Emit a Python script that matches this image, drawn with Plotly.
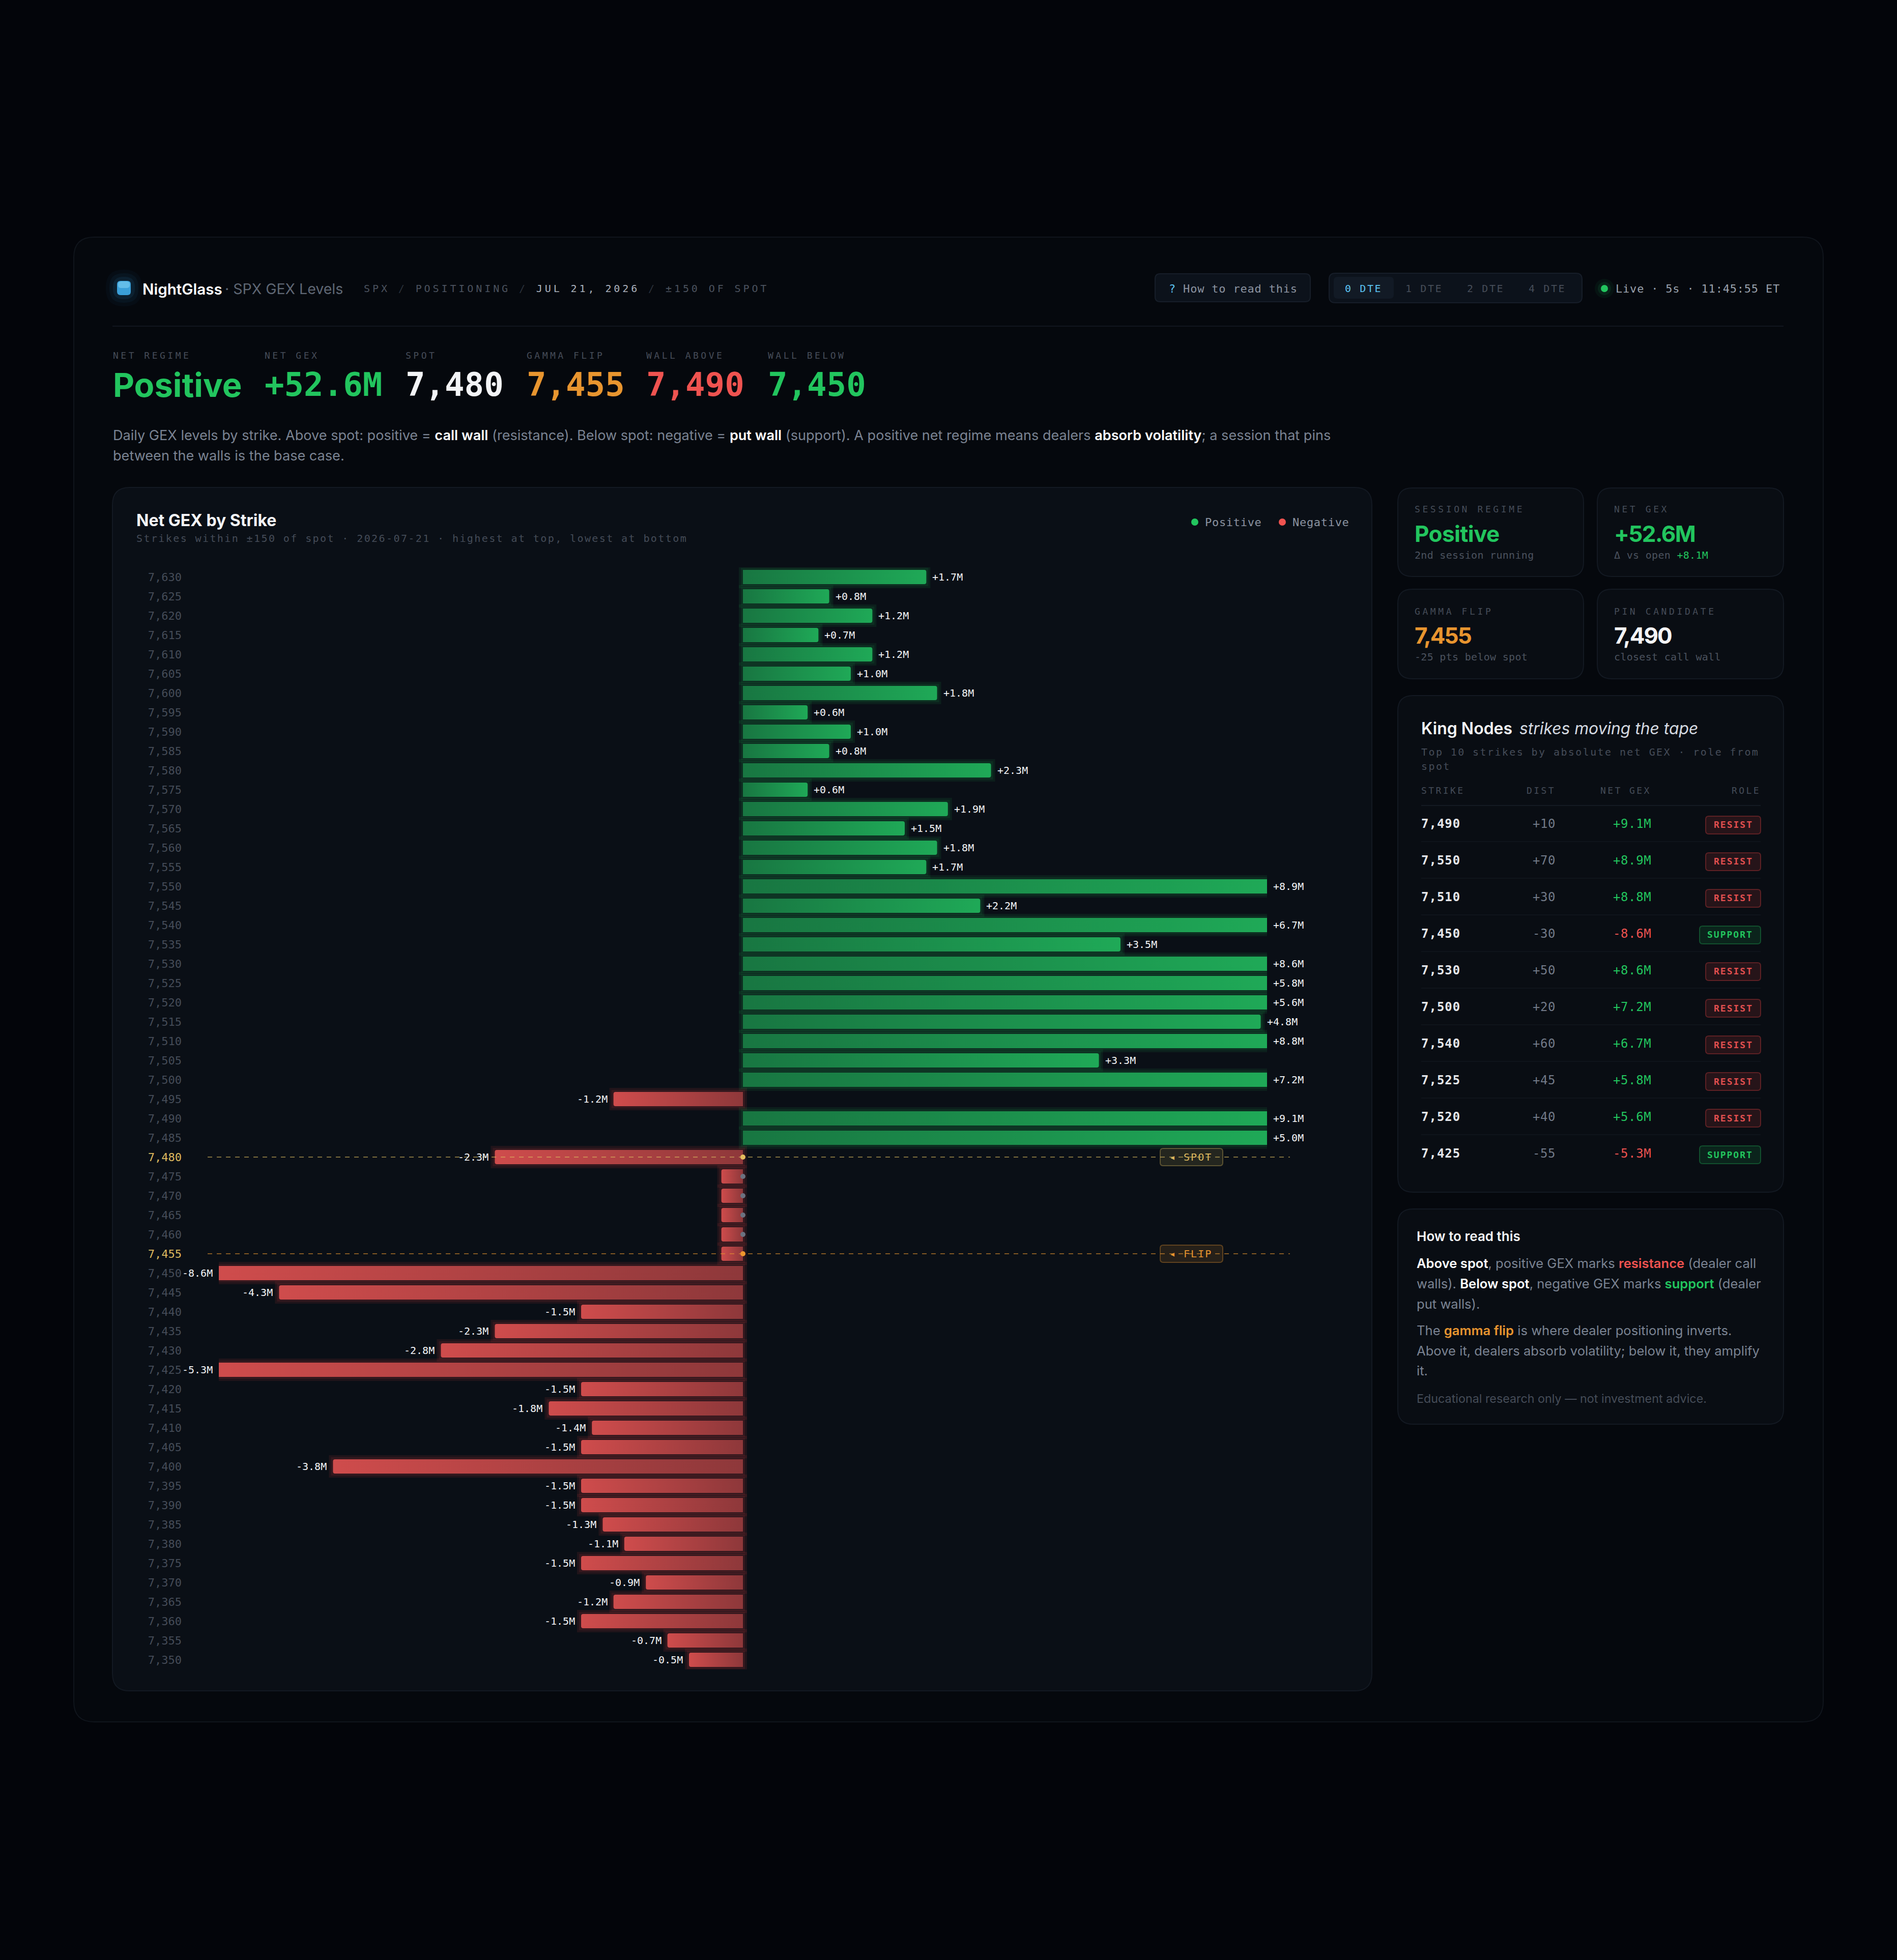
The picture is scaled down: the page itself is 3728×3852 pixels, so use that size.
import plotly.graph_objects as go

W, H = 3728, 3852

# Net GEX by strike, $M, highest strike first
strikes = [7630, 7625, 7620, 7615, 7610, 7605, 7600, 7595, 7590, 7585, 7580, 7575, 7570, 7565, 7560,
           7555, 7550, 7545, 7540, 7535, 7530, 7525, 7520, 7515, 7510, 7505, 7500, 7495, 7490, 7485,
           7480, 7475, 7470, 7465, 7460, 7455, 7450, 7445, 7440, 7435, 7430, 7425, 7420, 7415, 7410,
           7405, 7400, 7395, 7390, 7385, 7380, 7375, 7370, 7365, 7360, 7355, 7350]
net_gex = [1.7, 0.8, 1.2, 0.7, 1.2, 1.0, 1.8, 0.6, 1.0, 0.8, 2.3, 0.6, 1.9, 1.5, 1.8,
           1.7, 8.9, 2.2, 6.7, 3.5, 8.6, 5.8, 5.6, 4.8, 8.8, 3.3, 7.2, -1.2, 9.1, 5.0,
           -2.3, -0.2, -0.2, -0.2, -0.2, -0.2, -8.6, -4.3, -1.5, -2.3, -2.8, -5.3, -1.5, -1.8, -1.4,
           -1.5, -3.8, -1.5, -1.5, -1.3, -1.1, -1.5, -0.9, -1.2, -1.5, -0.7, -0.5]
spot_strike = 7480
flip_strike = 7455

# King nodes table
king_strikes = ["7,490", "7,550", "7,510", "7,450", "7,530", "7,500", "7,540", "7,525", "7,520", "7,425"]
king_dist = ["+10", "+70", "+30", "-30", "+50", "+20", "+60", "+45", "+40", "-55"]
king_gex = ["+9.1M", "+8.9M", "+8.8M", "-8.6M", "+8.6M", "+7.2M", "+6.7M", "+5.8M", "+5.6M", "-5.3M"]
king_role = ["RESIST", "RESIST", "RESIST", "SUPPORT", "RESIST", "RESIST", "RESIST", "RESIST", "RESIST", "SUPPORT"]

# Headline figures
kpi_labels = ["NET REGIME", "NET GEX", "SPOT", "GAMMA FLIP", "WALL ABOVE", "WALL BELOW"]
kpi_values = ["Positive", "+52.6M", "7,480", "7,455", "7,490", "7,450"]
dte_tabs = ["0 DTE", "1 DTE", "2 DTE", "4 DTE"]

MONO = "DejaVu Sans Mono"
SANS = "Inter"
GREEN = "#22c55e"
RED = "#ef5350"
ORANGE = "#e8952f"
GOLD = "#dcb95f"
WHITE = "#f3f4f6"
DIM = "#454c58"
MUTED = "#7a8392"
PAGE = "#03050a"
SHELL = "#05080d"
CARD = "#0a0f16"
EDGE = "#131922"

BAR_GREEN = "#1fa957"
BAR_RED = "#cf4c4c"
PX_PER_M = 212.0
ZERO_X = 1460
HALF_SPAN = 1030
ROW_H = 38
TOP_CENTER = 1134
x_cap = HALF_SPAN / PX_PER_M
y_top = TOP_CENTER - ROW_H / 2
y_bot = TOP_CENTER + (len(strikes) - 1) * ROW_H + ROW_H / 2


def fx(x):
    return x / W


def fy(y):
    return 1 - y / H


def rounded(x0, y0, x1, y1, r):
    a, b, c, d = fx(x0), fy(y0), fx(x1), fy(y1)
    ax, ay, bx, by = fx(x0 + r), fy(y0 + r), fx(x1 - r), fy(y1 - r)
    return (f"M {ax} {b} L {bx} {b} Q {c} {b} {c} {ay} L {c} {by} Q {c} {d} {bx} {d} "
            f"L {ax} {d} Q {a} {d} {a} {by} L {a} {ay} Q {a} {b} {ax} {b} Z")


shapes = []
notes = []


def panel(x0, y0, x1, y1, r, fill, edge=EDGE, lw=2, layer="below"):
    shapes.append(dict(type="path", path=rounded(x0, y0, x1, y1, r), xref="paper", yref="paper",
                       fillcolor=fill, line=dict(color=edge, width=lw), layer=layer))


def hline(x0, x1, y, color, lw=2):
    shapes.append(dict(type="line", xref="paper", yref="paper", x0=fx(x0), x1=fx(x1), y0=fy(y), y1=fy(y),
                       line=dict(color=color, width=lw), layer="below"))


def dot(cx, cy, r, color, layer="below"):
    shapes.append(dict(type="circle", xref="paper", yref="paper", x0=fx(cx - r), x1=fx(cx + r),
                       y0=fy(cy - r), y1=fy(cy + r), fillcolor=color, line=dict(width=0), layer=layer))


def spaced(text, px):
    return f'<span style="letter-spacing:{px}px">{text}</span>'


def txt(x, y, text, size, color, family=MONO, weight=400, anchor="left"):
    notes.append(dict(x=fx(x), y=fy(y), xref="paper", yref="paper", text=text, showarrow=False,
                      xanchor=anchor, yanchor="middle", align=anchor, borderpad=0, borderwidth=0,
                      font=dict(family=family, size=size, color=color, weight=weight)))


def strong(text, color="#ffffff"):
    return f'<span style="color:{color};font-weight:600">{text}</span>'


# Page shell and cards
panel(145, 466, 3583, 3384, 40, SHELL, "#10151c")
panel(221, 958, 2696, 3323, 34, CARD)
panel(2747, 959, 3112, 1133, 28, "#090d13")
panel(3139, 959, 3505, 1133, 28, "#090d13")
panel(2747, 1158, 3112, 1334, 28, "#090d13")
panel(3139, 1158, 3505, 1334, 28, "#090d13")
panel(2747, 1367, 3505, 2343, 30, "#090d13")
panel(2747, 2376, 3505, 2799, 30, "#090d13")

# Header
for grow, alpha in ((22, 0.04), (15, 0.06), (8, 0.09)):
    panel(230 - grow, 552 - grow, 257 + grow, 580 + grow, 12 + grow, f"rgba(56,160,220,{alpha})", "rgba(0,0,0,0)", 0)
panel(230, 552, 257, 580, 7, "#3a9fd8", "rgba(0,0,0,0)", 0)
panel(232, 553, 255, 566, 6, "#63bde8", "rgba(0,0,0,0)", 0)
txt(280, 568, "NightGlass", 29.6, "#ffffff", SANS, 600)
txt(442, 568, "· SPX GEX Levels", 28.5, "#5f6774", SANS)
txt(715, 567, spaced('SPX <span style="color:#2c323b">/</span> POSITIONING <span style="color:#2c323b">/</span> '
                     '<span style="color:#aab1bc">JUL 21, 2026</span> <span style="color:#2c323b">/</span> ±150 OF SPOT', 4.9),
    20, "#4b525e")

panel(2270, 538, 2575, 593, 10, "#0c121b", "#171e29")
txt(2297, 567, spaced('<span style="color:#5cc3f2">?</span> How to read this', 0.8), 22, "#8b93a0")
panel(2612, 537, 3109, 595, 12, "#0c121b", "#171e29")
panel(2621, 544, 2739, 587, 8, "#121a25", "rgba(0,0,0,0)", 0)
for i, (label, lx) in enumerate(zip(dte_tabs, [2643, 2762, 2883, 3004])):
    txt(lx, 567, spaced(label, 2.6), 20, "#5cc3f2" if i == 0 else "#464d58")

for grow, alpha in ((12, 0.06), (6, 0.10)):
    dot(3153, 567, 7 + grow, f"rgba(34,197,94,{alpha})")
dot(3153, 567, 7, GREEN)
txt(3175, 567, spaced("Live · 5s · 11:45:55 ET", 0.8), 22, "#9aa2ae")
hline(221, 3505, 641, "#11161e")

# Headline figures
kpi_x = [222, 520, 797, 1035, 1270, 1509]
kpi_colors = [GREEN, GREEN, WHITE, ORANGE, RED, GREEN]
for label, value, kx, color, i in zip(kpi_labels, kpi_values, kpi_x, kpi_colors, range(6)):
    txt(kx, 698, spaced(label, 4.5), 18, DIM)
    if i == 0:
        txt(kx, 756, value, 65, color, SANS, 700)
    else:
        txt(kx, 756, value, 64, color, MONO, 700)

txt(222, 855, "Daily GEX levels by strike. Above spot: positive = " + strong("call wall") +
    " (resistance). Below spot: negative = " + strong("put wall") +
    " (support). A positive net regime means dealers " + strong("absorb volatility") +
    "; a session that pins", 27.1, MUTED, SANS)
txt(222, 896, "between the walls is the base case.", 27.1, MUTED, SANS)

# Chart heading and legend
txt(268, 1022, "Net GEX by Strike", 32, WHITE, SANS, 700)
txt(268, 1058, spaced("Strikes within ±150 of spot · 2026-07-21 · highest at top, lowest at bottom", 2.4), 20, DIM)
dot(2348, 1026, 7, GREEN)
txt(2368, 1026, spaced("Positive", 0.7), 22, "#8b93a0")
dot(2520, 1026, 7, RED)
txt(2540, 1026, spaced("Negative", 0.7), 22, "#8b93a0")

# Stat tiles
tiles = [
    (2780, 1001, "SESSION REGIME", "Positive", GREEN, "2nd session running", -0.6),
    (3172, 1001, "NET GEX", "+52.6M", GREEN, f'Δ vs open <span style="color:{GREEN}">+8.1M</span>', -1.6),
    (2780, 1201, "GAMMA FLIP", "7,455", ORANGE, "-25 pts below spot", -2),
    (3172, 1201, "PIN CANDIDATE", "7,490", WHITE, "closest call wall", -2),
]
for tx, ty, label, value, color, sub, track in tiles:
    txt(tx, ty, spaced(label, 4.6), 18, DIM)
    txt(tx, ty + 48, spaced(value, track), 44, color, SANS, 700)
    txt(tx, ty + 90, spaced(sub, 0.3), 20, "#4b525e")

# King nodes table
txt(2793, 1431, strong("King Nodes", WHITE), 32, WHITE, SANS, 700)
txt(2986, 1431, "<i>strikes moving the tape</i>", 31.8, "#d5dae1", SANS)
txt(2793, 1478, spaced("Top 10 strikes by absolute net GEX · role from", 2.4), 20, DIM)
txt(2793, 1506, spaced("spot", 2.4), 20, DIM)
txt(2793, 1553, spaced("STRIKE", 3.4), 18, DIM)
txt(3057, 1553, spaced("DIST", 3.4), 18, DIM, anchor="right")
txt(3245, 1553, spaced("NET GEX", 3.4), 18, DIM, anchor="right")
txt(3460, 1553, spaced("ROLE", 3.4), 18, DIM, anchor="right")
hline(2793, 3460, 1583, "#141a23")
for i, (ks, kd, kg, kr) in enumerate(zip(king_strikes, king_dist, king_gex, king_role)):
    ry = 1619 + 72 * i
    if i < len(king_strikes) - 1:
        hline(2793, 3460, ry + 35, "#0f141b")
    txt(2793, ry, spaced(ks, 1), 24, "#e5e7eb", weight=700)
    txt(3057, ry, spaced(kd, 0.6), 24, "#727a88", anchor="right")
    txt(3245, ry, spaced(kg, 0.6), 24, GREEN if kg[0] == "+" else RED, anchor="right")
    if kr == "RESIST":
        panel(3352, ry - 15, 3460, ry + 20, 6, "rgba(239,68,68,0.13)", "rgba(239,68,68,0.32)", 2)
        txt(3406, ry + 2, spaced(kr, 2), 18, "#e04f4f", weight=700, anchor="center")
    else:
        panel(3340, ry - 15, 3460, ry + 20, 6, "rgba(34,197,94,0.13)", "rgba(34,197,94,0.32)", 2)
        txt(3400, ry + 2, spaced(kr, 2), 18, GREEN, weight=700, anchor="center")

# Reading guide
txt(2784, 2429, "How to read this", 26, WHITE, SANS, 600)
txt(2784, 2482, strong("Above spot") + ", positive GEX marks " + strong("resistance", RED) + " (dealer call", 25.6, MUTED, SANS)
txt(2784, 2522, "walls). " + strong("Below spot") + ", negative GEX marks " + strong("support", GREEN) + " (dealer", 25.6, MUTED, SANS)
txt(2784, 2562, "put walls).", 25.6, MUTED, SANS)
txt(2784, 2614, "The " + strong("gamma flip", ORANGE) + " is where dealer positioning inverts.", 25.6, MUTED, SANS)
txt(2784, 2654, "Above it, dealers absorb volatility; below it, they amplify", 25.6, MUTED, SANS)
txt(2784, 2693, "it.", 25.6, MUTED, SANS)
txt(2784, 2748, "Educational research only — not investment advice.", 23.3, "#454c58", SANS)

fig = go.Figure()

bar_colors = [BAR_GREEN if v > 0 else BAR_RED for v in net_gex]
glow_colors = ["rgba(34,197,94,0.09)" if v > 0 else "rgba(239,68,68,0.10)" for v in net_gex]
bar_width = 28 / ROW_H * 5

# Soft halo, then the bars themselves
for lw in (16, 8):
    fig.add_trace(go.Bar(x=net_gex, y=strikes, orientation="h", width=bar_width, hoverinfo="skip",
                         marker=dict(color="rgba(0,0,0,0)", line=dict(color=glow_colors, width=lw)),
                         showlegend=False))
fig.add_trace(go.Bar(x=net_gex, y=strikes, orientation="h", width=bar_width, name="Net GEX",
                     marker=dict(color=bar_colors, cornerradius=4, line=dict(width=0)), showlegend=False))

# Each bar darkens towards the zero line over its visible length
half = bar_width / 2
for s, v in zip(strikes, net_gex):
    end = max(min(v, x_cap), -x_cap)
    deep = "rgba(10,15,22,0.33)"
    clear = "rgba(10,15,22,0)"
    scale = [[0, deep], [1, clear]] if v > 0 else [[0, clear], [1, deep]]
    fig.add_trace(go.Scatter(x=[0, end, end, 0, 0], y=[s - half, s - half, s + half, s + half, s - half],
                             mode="lines", line=dict(width=0), fill="toself", hoverinfo="skip", showlegend=False,
                             fillgradient=dict(type="horizontal", colorscale=scale,
                                               start=min(0, end), stop=max(0, end))))

# Markers sitting on the zero line
small = [s for s, v in zip(strikes, net_gex) if abs(v) < 0.3 and s != flip_strike]
marker_strikes = small + [spot_strike, flip_strike]
marker_colors = ["#6b7280"] * len(small) + ["#e6bd5e", "#f0962e"]
fig.add_trace(go.Scatter(x=[0] * len(marker_strikes), y=marker_strikes, mode="markers", hoverinfo="skip",
                         marker=dict(size=10, color=marker_colors, line=dict(width=0)), showlegend=False))

# Bar labels
for s, v in zip(strikes, net_gex):
    if abs(v) < 0.3:
        continue
    end = max(min(v, x_cap), -x_cap)
    notes.append(dict(x=end, y=s, xref="x", yref="y", text=f"{v:+.1f}M", showarrow=False,
                      xanchor="left" if v > 0 else "right", yanchor="middle", xshift=12 if v > 0 else -12,
                      borderpad=0, borderwidth=0, font=dict(family=MONO, size=20, color="#f3f4f6")))

# Spot and flip guides
guides = [(spot_strike, "SPOT", "rgba(220,190,95,0.55)", "rgba(220,190,95,0.13)", "rgba(220,190,95,0.35)", GOLD),
          (flip_strike, "FLIP", "rgba(232,149,47,0.55)", "rgba(232,149,47,0.13)", "rgba(232,149,47,0.35)", ORANGE)]
for s, tag, lc, tf, te, tc in guides:
    shapes.append(dict(type="line", xref="paper", yref="y", x0=fx(408), x1=fx(2535), y0=s, y1=s,
                       line=dict(color=lc, width=2, dash="9px,9px"), layer="above"))
    row_y = TOP_CENTER + (strikes[0] - s) / 5 * ROW_H
    panel(2280, row_y - 17, 2403, row_y + 17, 6, tf, te, 2, "above")
    notes.append(dict(x=fx(2298), y=s, xref="paper", yref="y", text=spaced("◂ " + tag, 2), showarrow=False,
                      xanchor="left", yanchor="middle", borderpad=0, borderwidth=0,
                      font=dict(family=MONO, size=20, color=tc)))

tick_text = [f'<span style="color:{GOLD}">{s:,}</span>' if s in (spot_strike, flip_strike) else f"{s:,}" for s in strikes]

fig.update_layout(
    width=W, height=H, autosize=False, margin=dict(l=0, r=0, t=0, b=0, pad=0),
    paper_bgcolor=PAGE, plot_bgcolor="rgba(0,0,0,0)", barmode="overlay", hovermode=False,
    shapes=shapes, annotations=notes, showlegend=False,
    xaxis=dict(domain=[fx(ZERO_X - HALF_SPAN), fx(ZERO_X + HALF_SPAN)], range=[-x_cap, x_cap], visible=False,
               showgrid=False, zeroline=False, fixedrange=True),
    yaxis=dict(domain=[fy(y_bot), fy(y_top)], range=[strikes[-1] - 2.5, strikes[0] + 2.5], showgrid=False,
               zeroline=False, showline=False, ticks="", tickmode="array", tickvals=strikes, ticktext=tick_text,
               tickfont=dict(family=MONO, size=22, color=DIM), ticklabelstandoff=72, fixedrange=True),
)

fig.write_html("out.html", config=dict(displayModeBar=False))
